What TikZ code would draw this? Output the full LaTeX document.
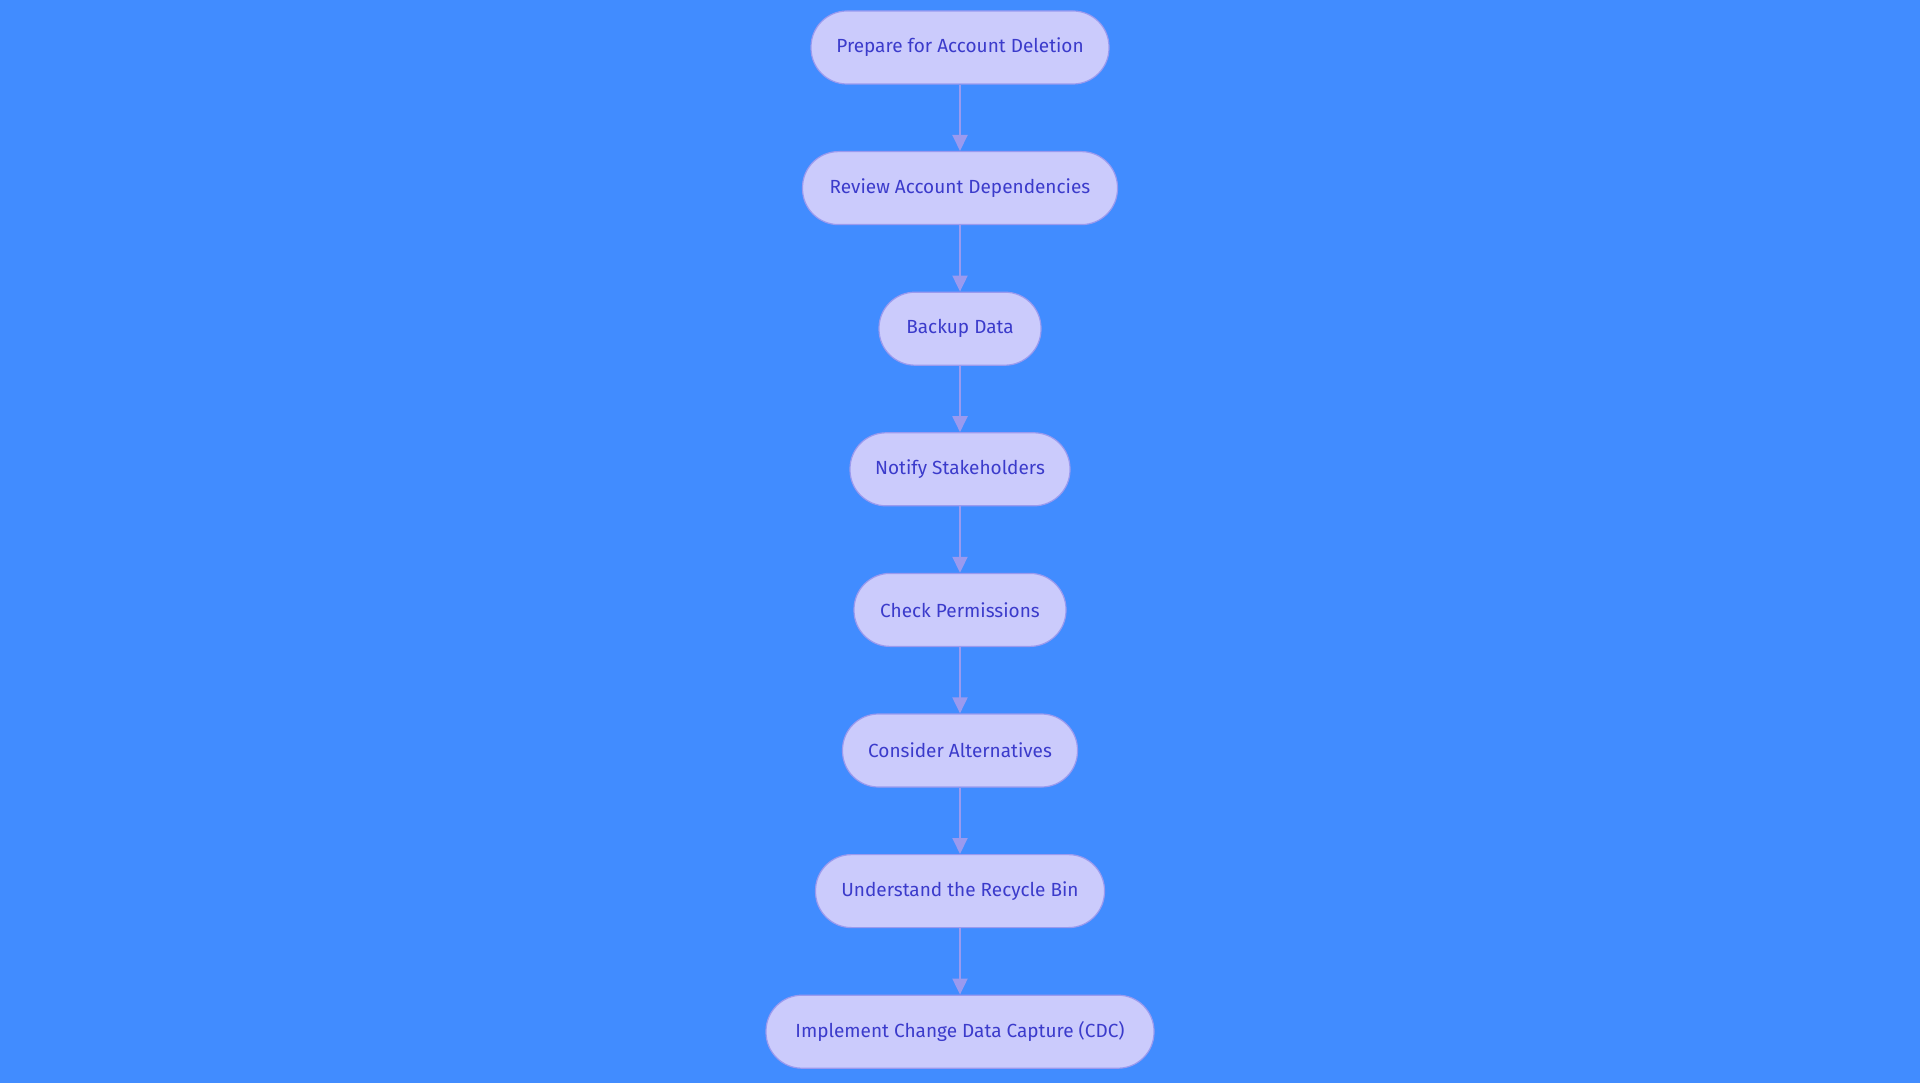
\documentclass[tikz,border=0pt]{standalone}
\usepackage{fontspec}
\setmainfont{Fira Sans}
\usetikzlibrary{arrows.meta}
\definecolor{bgc}{HTML}{418CFF}
\definecolor{nfill}{HTML}{CBCBFC}
\definecolor{nline}{HTML}{9A9AEF}
\definecolor{ntext}{HTML}{3B3BCB}
\begin{document}
\begin{tikzpicture}[x=1pt,y=-1pt,
  stepbox/.style={draw=nline,line width=1.2pt,fill=nfill,text=ntext,
    rounded corners=36pt,minimum height=73pt,inner sep=0pt,
    font=\fontsize{19pt}{23pt}\selectfont},
  flow/.style={draw=nline,line width=2pt,-{Triangle[width=15pt,length=16pt]}}]
\fill[bgc] (0,0) rectangle (1920,1083);
\useasboundingbox (0,0) rectangle (1920,1083);
\node[stepbox,minimum width=298pt] (n1) at (960,47.5) {Prepare for Account Deletion};
\node[stepbox,minimum width=315pt] (n2) at (960,188.1) {Review Account Dependencies};
\node[stepbox,minimum width=162pt] (n3) at (960,328.7) {Backup Data};
\node[stepbox,minimum width=220pt] (n4) at (960,469.3) {Notify Stakeholders};
\node[stepbox,minimum width=212pt] (n5) at (960,609.9) {Check Permissions};
\node[stepbox,minimum width=235pt] (n6) at (960,750.5) {Consider Alternatives};
\node[stepbox,minimum width=289pt] (n7) at (960,891.1) {Understand the Recycle Bin};
\node[stepbox,minimum width=388pt] (n8) at (960,1031.7) {Implement Change Data Capture (CDC)};
\foreach \a/\b in {n1/n2,n2/n3,n3/n4,n4/n5,n5/n6,n6/n7,n7/n8}
  \draw[flow] (\a.south) -- (\b.north);
\end{tikzpicture}
\end{document}
